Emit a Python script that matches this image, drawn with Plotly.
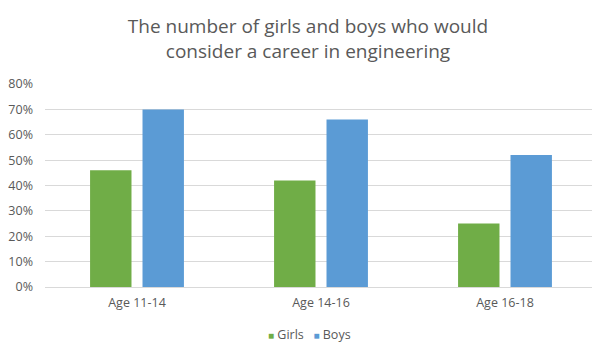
import plotly.graph_objects as go

categories = ["Age 11-14", "Age 14-16", "Age 16-18"]
girls = [0.46, 0.42, 0.25]
boys = [0.70, 0.66, 0.52]
tick_vals = [0, 0.1, 0.2, 0.3, 0.4, 0.5, 0.6, 0.7, 0.8]
tick_text = ["0%", "10%", "20%", "30%", "40%", "50%", "60%", "70%", "80%"]
series_names = ["Girls", "Boys"]
series_colors = ["#70AD47", "#5B9BD5"]

fig = go.Figure()
fig.add_trace(go.Bar(name=series_names[0], x=categories, y=girls,
                     marker=dict(color=series_colors[0], line=dict(width=0))))
fig.add_trace(go.Bar(name=series_names[1], x=categories, y=boys,
                     marker=dict(color=series_colors[1], line=dict(width=0))))

font_family = "Open Sans, Noto Sans, sans-serif"
text_color = "#595959"

legend_text = (
    f'<span style="color:{series_colors[0]};font-size:10px">■</span>\u00a0{series_names[0]}'
    f'\u00a0\u00a0\u00a0<span style="color:{series_colors[1]};font-size:10px">■</span>\u00a0{series_names[1]}'
)

fig.update_layout(
    width=600, height=360,
    margin=dict(l=37, r=11, t=76, b=81, autoexpand=False),
    paper_bgcolor="white", plot_bgcolor="white",
    barmode="group", bargap=0.43, bargroupgap=0.21,
    title=dict(
        text="The number of girls and boys who would<br>consider a career in engineering",
        x=0.5, xanchor="center", y=0.93, yanchor="top",
        font=dict(family=font_family, size=19, color=text_color),
    ),
    font=dict(family=font_family, size=12, color=text_color),
    xaxis=dict(showgrid=False, showline=True, linecolor="#d9d9d9", linewidth=1,
               ticks="", automargin=False, ticklabelstandoff=4,
               tickfont=dict(size=12.5, color=text_color)),
    yaxis=dict(range=[0, 0.8], tickvals=tick_vals, ticktext=tick_text,
               showgrid=True, gridcolor="#d9d9d9", gridwidth=1, zeroline=False,
               ticks="", automargin=False, ticklabelstandoff=11,
               tickfont=dict(size=12.5, color=text_color)),
    showlegend=False,
    annotations=[dict(
        text=legend_text, xref="paper", yref="paper",
        x=0.479, y=-0.236, xanchor="center", yanchor="middle",
        showarrow=False, font=dict(family=font_family, size=12.5, color=text_color),
    )],
)
fig.write_html("out.html")
